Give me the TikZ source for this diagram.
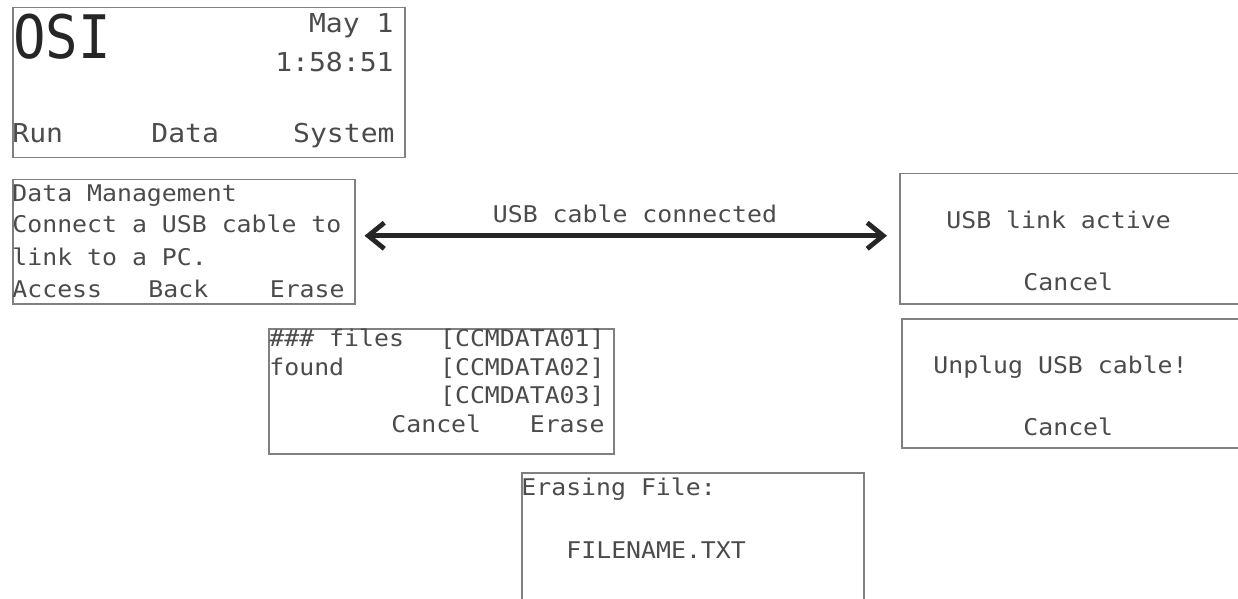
\documentclass[tikz,border=0pt]{standalone}
\usepackage{fontspec}
\usetikzlibrary{arrows.meta}
\newfontfamily\lcdfont[FakeStretch=1.08]{DejaVu Sans Mono}
\newfontfamily\lcdbigfont[FakeStretch=0.9]{DejaVu Sans Mono}
\definecolor{framegray}{RGB}{128,128,128}
\definecolor{lcdtext}{RGB}{75,75,75}

\begin{document}
\begin{tikzpicture}[x=0.5pt,y=0.5pt,yscale=-1,
		screen/.style={draw=framegray,line width=0.75pt,inner sep=0pt,anchor=north west},
		lcd/.style={font=\lcdfont\fontsize{11.5}{14}\selectfont,text=lcdtext,inner sep=0pt},
		lcdtop/.style={font=\lcdfont\fontsize{13}{16}\selectfont,text=lcdtext,inner sep=0pt},
		usbarrow/.style={line width=2.4pt,color=black!85,{Straight Barb[length=8pt,width=13pt]}-{Straight Barb[length=8pt,width=13pt]}}]
			%set diagram to the size of the screenshot
			\useasboundingbox (0,0) rectangle (1238,599);
			\clip (0,0) rectangle (1238,599);
			
			%Shape: Screen [main]
			\node [screen,minimum width=196pt,minimum height=75pt] (main) at (12,7) {};
			%Shape: Screen [data management]
			\node [screen,minimum width=171pt,minimum height=62pt] (dm) at (12,179) {};
			%Shape: Screen [usb link]
			\node [screen,minimum width=176pt,minimum height=65pt] (usb) at (899,173) {};
			%Shape: Screen [unplug]
			\node [screen,minimum width=175pt,minimum height=64.5pt] (unplug) at (901,318) {};
			%Shape: Screen [files]
			\node [screen,minimum width=172.5pt,minimum height=62.5pt] (files) at (268,328) {};
			%Shape: Screen [erasing]
			\node [screen,minimum width=171pt,minimum height=80pt] (erasing) at (521,472) {};
			
			%Arrow ends
			\path (dm.east) ++(9,-6) coordinate (al);
			\path (usb.west) ++(-12,-3) coordinate (ar);
			%Straight Lines [usb cable]
			\draw [usbarrow] (al) -- (ar);
			
			% Text Node
			\node [font=\lcdbigfont\fontsize{30}{32}\selectfont,text=black!85,inner sep=0pt,anchor=base west] (osi) at (13,59) {OSI};
			% Text Node
			\node [lcdtop,anchor=base east] (date) at (394,33) {May 1};
			% Text Node
			\node [lcdtop,anchor=base east] (clock) at (394,72) {1:58:51};
			% Text Node
			\node [lcdtop,anchor=base west] (run) at (12,143) {Run};
			% Text Node
			\node [lcdtop,anchor=base west] (data) at (151,143) {Data};
			% Text Node
			\node [lcdtop,anchor=base east] (system) at (395,143) {System};
			
			% Text Node
			\node [lcd,anchor=base west] (dmtitle) at (12,201) {Data Management};
			% Text Node
			\node [lcd,anchor=base west] (dmline1) at (12,233) {Connect a USB cable to};
			% Text Node
			\node [lcd,anchor=base west] (dmline2) at (12,265) {link to a PC.};
			% Text Node
			\node [lcd,anchor=base west] (access) at (12,297) {Access};
			% Text Node
			\node [lcd,anchor=base west] (back) at (148,297) {Back};
			% Text Node
			\node [lcd,anchor=base east] (erase) at (345,297) {Erase};
			
			% Text Node
			\node [lcd,anchor=base] (cablelbl) at (635,222) {USB cable connected};
			
			% Text Node
			\node [lcd,anchor=base west] (active) at (946,228) {USB link active};
			% Text Node
			\node [lcd,anchor=base west] (usbcancel) at (1023,290) {Cancel};
			
			% Text Node
			\node [lcd,anchor=base west] (unplugtxt) at (933,373) {Unplug USB cable!};
			% Text Node
			\node [lcd,anchor=base west] (unplugcancel) at (1023,435) {Cancel};
			
			% Text Node
			\node [lcd,anchor=base west] (nfiles) at (269,346) {\#\#\# files};
			% Text Node
			\node [lcd,anchor=base west] (found) at (269,375) {found};
			% Text Node
			\node [lcd,anchor=base east] (file1) at (605,346) {[CCMDATA01]};
			% Text Node
			\node [lcd,anchor=base east] (file2) at (605,375) {[CCMDATA02]};
			% Text Node
			\node [lcd,anchor=base east] (file3) at (605,403) {[CCMDATA03]};
			% Text Node
			\node [lcd,anchor=base west] (filescancel) at (391,432) {Cancel};
			% Text Node
			\node [lcd,anchor=base east] (fileserase) at (605,432) {Erase};
			
			% Text Node
			\node [lcd,anchor=base west] (erasingtxt) at (521,495) {Erasing File:};
			% Text Node
			\node [lcd,anchor=base west] (filename) at (566,558) {FILENAME.TXT};
			
		\end{tikzpicture}
\end{document}
